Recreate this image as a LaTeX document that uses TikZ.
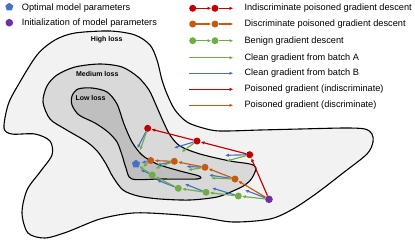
\documentclass[tikz,border=0pt]{standalone}
\usepackage{fontspec}
\setmainfont{Liberation Sans}
\usetikzlibrary{arrows.meta,positioning,calc,shapes.geometric}
\definecolor{poisI}{RGB}{192,0,0}
\definecolor{poisD}{RGB}{197,90,17}
\definecolor{cleanA}{RGB}{112,173,71}
\definecolor{cleanB}{RGB}{68,114,196}
\definecolor{initc}{RGB}{112,48,160}
\definecolor{optc}{RGB}{68,114,196}
\definecolor{high}{RGB}{242,242,242}
\definecolor{medium}{RGB}{217,217,217}
\definecolor{low}{RGB}{191,191,191}

\begin{document}
\begin{tikzpicture}[x=1pt, y=-1pt,
  region/.style={draw=black, line width=1.1pt},
  dot/.style={circle, inner sep=0pt, minimum size=7pt},
  pent/.style={regular polygon, regular polygon sides=5, inner sep=0pt, minimum size=8.5pt, fill=optc},
  arrow/.style={-{Latex[length=3.8pt,width=3.4pt]}, line width=1.15pt},
  legtext/.style={anchor=west, inner sep=0pt, font=\fontsize{9.2}{11}\selectfont},
  losstext/.style={font=\fontsize{7}{8}\selectfont\bfseries},
]
  \fill[white] (0,0) rectangle (415,242);
  \useasboundingbox (0,0) rectangle (415,242);

  % loss landscape
  \draw[region, fill=high] plot[smooth cycle] coordinates {
    (4,128) (8,105) (17,87) (37,55) (55,40) (75,33) (110,31) (135,35) (150,45)
    (157,60) (162,80) (167,94) (175,110) (187,122) (203,128) (220,131) (260,130)
    (300,129) (345,128) (365,129) (372,134) (373,142) (367,154) (343,173) (317,193)
    (293,209) (270,219) (233,222) (200,217) (167,214) (133,213) (100,219) (67,232)
    (45,238) (28,233) (22,213) (27,190) (40,172) (52,155) (50,141) (35,134) (12,134)};
  \draw[region, fill=medium] plot[smooth cycle] coordinates {
    (43,102) (47,86) (57,75) (75,67) (100,64) (122,67) (138,77) (149,90) (156,105)
    (163,121) (170,135) (180,146) (200,154) (230,161) (250,164) (256,168) (252,178)
    (245,185) (233,191) (217,197) (190,200) (160,199) (138,196) (123,190) (113,177)
    (106,164) (98,152) (87,142) (65,129) (50,119)};
  \draw[region, fill=low] plot[smooth cycle, tension=0.5] coordinates {
    (72,96) (78,89) (92,88) (107,92) (117,104) (124,124) (132,142) (142,155)
    (157,164) (180,171) (199,176) (197,179) (160,179) (132,179) (126,168)
    (122,155) (117,142) (108,132) (95,123) (79,115) (72,105)};
  \node[losstext] (highlbl) at (106.7,40) {High loss};
  \node[losstext] (medlbl) at (97.3,74) {Medium loss};
  \node[losstext] (lowlbl) at (90.5,98.3) {Low loss};

  % legend, left
  \node[pent] (optleg) at (9.3,7) {};
  \node[legtext] (optlbl) at (21.7,8.3) {Optimal model parameters};
  \node[dot, fill=initc, minimum size=7.6pt] (initleg) at (9.3,22.7) {};
  \node[legtext] (initlbl) at (21.7,23.5) {Initialization of model parameters};

  % legend, right
  \node[dot, fill=poisI] (li1) at (192.7,8.3) {};
  \node[dot, fill=poisI] (li2) at (215,8.3) {};
  \coordinate (li3) at (233.3,8.3);
  \draw[arrow, poisI] (li1) -- (li2);
  \draw[arrow, poisI] (li2) -- (li3);
  \node[legtext, right=11pt of li3] (lilbl) {Indiscriminate poisoned gradient descent};
  \node[dot, fill=poisD] (ld1) at (192.7,24) {};
  \node[dot, fill=poisD] (ld2) at (215,24) {};
  \coordinate (ld3) at (233.3,24);
  \draw[arrow, poisD] (ld1) -- (ld2);
  \draw[arrow, poisD] (ld2) -- (ld3);
  \node[legtext, right=11pt of ld3] (ldlbl) {Discriminate poisoned gradient descent};
  \node[dot, fill=cleanA] (lb1) at (192.7,40.7) {};
  \node[dot, fill=cleanA] (lb2) at (215,40.7) {};
  \coordinate (lb3) at (233.3,40.7);
  \draw[arrow, cleanA] (lb1) -- (lb2);
  \draw[arrow, cleanA] (lb2) -- (lb3);
  \node[legtext, right=11pt of lb3] (lblbl) {Benign gradient descent};
  \coordinate (la0) at (189.3,57.7);
  \coordinate (la1) at (233.3,57.7);
  \draw[arrow, cleanA] (la0) -- (la1);
  \node[legtext, right=11pt of la1] (lalbl) {Clean gradient from batch A};
  \coordinate (lc0) at (189.3,73.3);
  \coordinate (lc1) at (233.3,73.3);
  \draw[arrow, cleanB] (lc0) -- (lc1);
  \node[legtext, right=11pt of lc1] (lclbl) {Clean gradient from batch B};
  \coordinate (lp0) at (189.3,89.3);
  \coordinate (lp1) at (233.3,89.3);
  \draw[arrow, poisI] (lp0) -- (lp1);
  \node[legtext, right=11pt of lp1] (lplbl) {Poisoned gradient (indiscriminate)};
  \coordinate (lq0) at (189.3,105.3);
  \coordinate (lq1) at (233.3,105.3);
  \draw[arrow, poisD] (lq0) -- (lq1);
  \node[legtext, right=11pt of lq1] (lqlbl) {Poisoned gradient (discriminate)};

  % parameters
  \node[pent] (opt) at (136,164) {};
  \node[dot, fill=initc, minimum size=7.6pt] (init) at (269,199.3) {};
  \node[dot, fill=poisI] (r1) at (147.7,128.3) {};
  \node[dot, fill=poisI] (r2) at (197,141) {};
  \node[dot, fill=poisI] (r3) at (249.7,154.7) {};
  \node[dot, fill=poisD] (o1) at (150.7,160.5) {};
  \node[dot, fill=poisD] (o2) at (174.3,161.3) {};
  \node[dot, fill=poisD] (o3) at (205,167.3) {};
  \node[dot, fill=poisD] (o4) at (235,179) {};
  \node[dot, fill=cleanA] (g1) at (152.3,175) {};
  \node[dot, fill=cleanA] (g2) at (178.3,188.3) {};
  \node[dot, fill=cleanA] (g3) at (206,192.3) {};
  \node[dot, fill=cleanA] (g4) at (238.3,196) {};

  % clean gradients at each point
  \coordinate (r1b) at (137.3,148.3);  \coordinate (r1a) at (140,150.5);
  \coordinate (r2b) at (174,148);      \coordinate (r2a) at (181.7,152);
  \coordinate (r3b) at (225,155.3);    \coordinate (r3a) at (226.7,161);
  \coordinate (o4b) at (209,175);      \coordinate (o4a) at (211,178);
  \coordinate (o3b) at (186.5,166.5);  \coordinate (o3a) at (188,170);
  \coordinate (o2b) at (157,165);      \coordinate (o2a) at (155.5,168.5);
  \coordinate (o1b) at (141.5,163);    \coordinate (o1a) at (143,167);
  \coordinate (initb) at (245,190);
  \coordinate (g4b) at (212,188);
  \coordinate (g3b) at (185,184);
  \coordinate (g2b) at (157,180);
  \coordinate (g1b) at (140.5,169.5);
  \foreach \p in {r1,r2,r3,o1,o2,o3,o4} {
    \draw[arrow, cleanB] (\p) -- (\p b);
    \draw[arrow, cleanA] (\p) -- (\p a);
  }
  \foreach \p in {init,g4,g3,g2,g1}
    \draw[arrow, cleanB] (\p) -- (\p b);

  % descent paths
  \draw[arrow, poisI] (init) -- (r3);
  \draw[arrow, poisI] (r3) -- (r2);
  \draw[arrow, poisI] (r2) -- (r1);
  \draw[arrow, poisD] (init) -- (o4);
  \draw[arrow, poisD] (o4) -- (o3);
  \draw[arrow, poisD] (o3) -- (o2);
  \draw[arrow, poisD] (o2) -- (o1);
  \draw[arrow, cleanA] (init) -- (g4);
  \draw[arrow, cleanA] (g4) -- (g3);
  \draw[arrow, cleanA] (g3) -- (g2);
  \draw[arrow, cleanA] (g2) -- (g1);
  \draw[arrow, cleanA] (g1) -- (opt);
\end{tikzpicture}
\end{document}
